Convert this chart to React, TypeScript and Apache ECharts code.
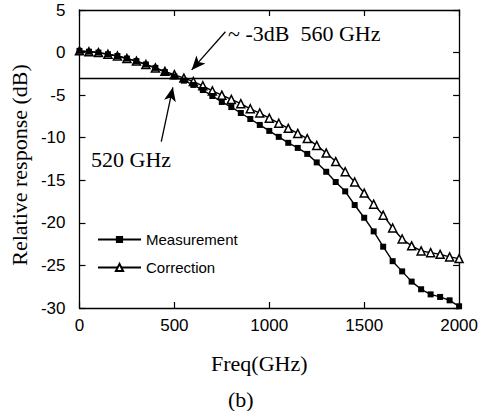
import React, { useEffect, useRef } from "react";
import * as echarts from "echarts";

const freqGHz = [
  0, 50, 100, 150, 200, 250, 300, 350, 400, 450, 500, 550, 600, 650, 700, 750, 800, 850, 900, 950,
  1000, 1050, 1100, 1150, 1200, 1250, 1300, 1350, 1400, 1450, 1500, 1550, 1600, 1650, 1700, 1750,
  1800, 1850, 1900, 1950, 2000,
];

const measurementDb = [
  0.2, 0.1, 0.0, -0.2, -0.4, -0.7, -1.0, -1.4, -1.8, -2.3, -2.8, -3.3, -3.8, -4.4, -5.1, -5.8,
  -6.4, -7.1, -7.8, -8.5, -9.2, -9.9, -10.6, -11.2, -11.9, -12.9, -14.0, -15.2, -16.3, -17.9,
  -19.4, -21.0, -22.8, -24.5, -25.7, -26.9, -27.8, -28.4, -28.7, -29.1, -29.8,
];

const correctionDb = [
  0.2, 0.1, 0.0, -0.2, -0.4, -0.7, -1.0, -1.4, -1.8, -2.2, -2.6, -3.0, -3.4, -3.9, -4.5, -5.0,
  -5.5, -6.0, -6.6, -7.1, -7.7, -8.3, -8.9, -9.5, -10.1, -10.9, -11.8, -12.8, -14.0, -15.2,
  -16.5, -17.8, -19.1, -20.6, -21.9, -22.7, -23.3, -23.5, -23.7, -24.0, -24.2,
];

const seriesNames = ["Measurement", "Correction"];
const refLevelDb = -3;
// annotation arrows, in data units [freq, dB]
const arrow3dBFrom = [769, 2.45];
const arrow3dBTo = [591, -2.04];
const arrow520From = [431, -10.47];
const arrow520To = [492, -4.08];
const note3dB = "~ -3dB  560 GHz";
const note520 = "520 GHz";
const captionText = "(b)";

const SERIF = '"Liberation Serif", "Times New Roman", serif';
const SANS = '"Liberation Sans", Arial, sans-serif';

export default function App() {
  const ref = useRef<HTMLDivElement>(null);
  useEffect(() => {
    if (!ref.current) return;
    const chart = echarts.init(ref.current, null, { renderer: "svg" });
    const xBase = {
      type: "value",
      min: 0,
      max: 2000,
      interval: 500,
      splitLine: { show: false },
      axisLine: { show: true, lineStyle: { color: "#000", width: 1.3 } },
      axisTick: { show: true, inside: true, length: 6, lineStyle: { color: "#000", width: 1.2 } },
    };
    const yBase = {
      type: "value",
      min: -30,
      max: 5,
      interval: 5,
      splitLine: { show: false },
      axisLine: { show: true, onZero: false, lineStyle: { color: "#000", width: 1.3 } },
      axisTick: { show: true, inside: true, length: 6, lineStyle: { color: "#000", width: 1.2 } },
    };
    const m = freqGHz.map((f, i) => [f, measurementDb[i]]);
    const c = freqGHz.map((f, i) => [f, correctionDb[i]]);
    chart.setOption({
      animation: false,
      backgroundColor: "#fff",
      grid: { left: 78, right: 18, top: 10, bottom: 103, containLabel: false },
      xAxis: [
        {
          ...xBase,
          position: "bottom",
          axisLine: { ...xBase.axisLine, onZero: false },
          name: "Freq(GHz)",
          nameLocation: "middle",
          nameGap: 44,
          nameTextStyle: { fontFamily: SERIF, fontSize: 22, color: "#000", padding: [0, 20, 0, 0] },
          axisLabel: {
            show: true,
            margin: 9,
            fontFamily: SANS,
            fontSize: 17,
            color: "#000",
            formatter: (v: number) => String(v),
          },
        },
        {
          ...xBase,
          position: "top",
          axisLine: { ...xBase.axisLine, onZero: false },
          axisLabel: { show: false },
        },
      ],
      yAxis: [
        {
          ...yBase,
          position: "left",
          name: "Relative response (dB)",
          nameLocation: "middle",
          nameGap: 48,
          nameTextStyle: { fontFamily: SERIF, fontSize: 22, color: "#000", padding: [0, 12, 0, 0] },
          axisLabel: {
            show: true,
            margin: 14,
            fontFamily: SANS,
            fontSize: 17,
            color: "#000",
            formatter: (v: number) => String(v),
          },
        },
        { ...yBase, position: "right", axisLabel: { show: false } },
      ],
      legend: {
        orient: "vertical",
        left: 97,
        top: 232,
        padding: 0,
        itemWidth: 43,
        itemHeight: 9,
        itemGap: 13,
        data: seriesNames,
        textStyle: { fontFamily: SANS, fontSize: 15, color: "#000" },
      },
      series: [
        {
          name: seriesNames[1],
          type: "line",
          data: c,
          symbol: "triangle",
          symbolSize: 8,
          showAllSymbol: true,
          lineStyle: { color: "#000", width: 1.4 },
          itemStyle: { color: "#fff", borderColor: "#000", borderWidth: 1.5 },
          z: 2,
          markLine: {
            silent: true,
            symbol: ["none", "none"],
            label: { show: false },
            lineStyle: { color: "#000", width: 1.3, type: "solid" },
            data: [{ yAxis: refLevelDb }],
          },
        },
        {
          name: seriesNames[0],
          type: "line",
          data: m,
          symbol: "rect",
          symbolSize: 6,
          showAllSymbol: true,
          lineStyle: { color: "#000", width: 1.4 },
          itemStyle: { color: "#000", borderColor: "#000", borderWidth: 0 },
          z: 3,
          markLine: {
            silent: true,
            symbol: ["none", "arrow"],
            symbolSize: [9, 14],
            label: { show: false },
            lineStyle: { color: "#000", width: 1.3, type: "solid" },
            data: [
              [{ coord: arrow3dBFrom }, { coord: arrow3dBTo }],
              [{ coord: arrow520From }, { coord: arrow520To }],
            ],
          },
        },
      ],
      graphic: [
        {
          type: "text",
          left: 228,
          top: 22,
          style: { text: note3dB, font: `22px ${SERIF}`, fill: "#000" },
        },
        {
          type: "text",
          left: 91,
          top: 148,
          style: { text: note520, font: `22px ${SERIF}`, fill: "#000" },
        },
        {
          type: "text",
          left: 228,
          top: 388,
          style: { text: captionText, font: `22px ${SERIF}`, fill: "#000" },
        },
      ],
    });
    return () => chart.dispose();
  }, []);
  return (
    <div
      ref={ref}
      style={{ position: "absolute", left: 0, top: 0, width: 481, height: 411 }}
    />
  );
}
